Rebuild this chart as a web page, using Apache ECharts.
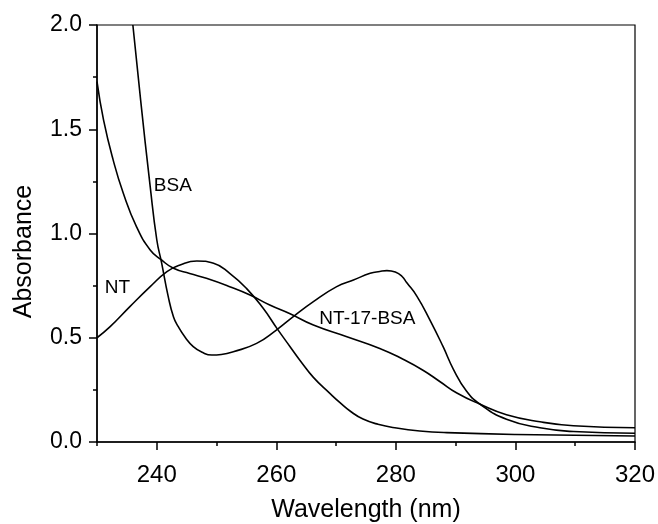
<!DOCTYPE html>
<html>
<head>
<meta charset="utf-8">
<script src="https://cdn.jsdelivr.net/npm/echarts@6/dist/echarts.min.js"></script>
<style>
html,body{margin:0;padding:0;background:#fff;}
#c{width:658px;height:524px;}
</style>
</head>
<body>
<div id="c"></div>
<script>
// BSA
const wlBSA  = [236.0, 237.3, 238.9, 240.0, 240.8, 241.9, 242.8, 243.6, 244.8, 246.1, 247.6, 249.2, 250.8, 252.8, 256.7, 260.0, 263.0, 266.2, 270.1, 272.9, 275.7, 277.3, 278.5, 279.9, 281.0, 281.8, 283.5, 285.7, 287.9, 289.6, 291.8, 294.1, 298.5, 304.1, 309.7, 320.0];
const absBSA = [2.00, 1.64, 1.225, 0.97, 0.86, 0.70, 0.60, 0.553, 0.500, 0.457, 0.430, 0.417, 0.420, 0.433, 0.473, 0.537, 0.605, 0.673, 0.745, 0.777, 0.809, 0.818, 0.822, 0.815, 0.795, 0.765, 0.700, 0.585, 0.457, 0.350, 0.245, 0.181, 0.109, 0.068, 0.050, 0.042];
// NT-17-BSA
const wlConj  = [230.0, 231.1, 232.7, 234.4, 236.6, 238.9, 240.8, 242.8, 245.5, 248.3, 252.2, 255.6, 258.9, 262.3, 266.2, 271.8, 277.3, 281.2, 284.6, 287.4, 290.2, 294.1, 298.5, 304.1, 309.7, 320.0];
const absConj = [1.728, 1.544, 1.353, 1.193, 1.033, 0.921, 0.873, 0.833, 0.808, 0.785, 0.745, 0.705, 0.657, 0.615, 0.561, 0.505, 0.449, 0.397, 0.343, 0.289, 0.235, 0.181, 0.131, 0.097, 0.078, 0.068];
// NT
const wlNT  = [230.0, 232.2, 235.5, 238.9, 241.7, 243.9, 246.7, 249.5, 252.2, 255.0, 257.8, 260.1, 262.3, 264.0, 266.2, 269.0, 270.6, 272.5, 274.5, 277.0, 280.1, 284.0, 288.5, 300.0, 320.0];
const absNT = [0.500, 0.553, 0.649, 0.745, 0.817, 0.849, 0.868, 0.857, 0.809, 0.737, 0.641, 0.545, 0.457, 0.390, 0.310, 0.232, 0.190, 0.145, 0.110, 0.085, 0.067, 0.053, 0.045, 0.036, 0.029];

const xMajorTicks = [240, 260, 280, 300, 320];
const xMinorTicks = [230, 250, 270, 290, 310];

const labelTexts = ['BSA', 'NT', 'NT-17-BSA'];
const labelAnchors = [[239.5, 1.227], [231.3, 0.741], [267.2, 0.593]];

function pairs(xs, ys){ return xs.map((x,i)=>[x, ys[i]]); }

const FONT = '"Liberation Sans", Arial, Helvetica, sans-serif';
const chart = echarts.init(document.getElementById('c'), null, {renderer:'canvas'});

const lineStyle = {color:'#000', width:1.6};
function mkSeries(name, xs, ys){
  return {
    name, type:'line', data: pairs(xs, ys), showSymbol:false, symbol:'none',
    smooth:0.5, lineStyle, clip:true, animation:false, z:3
  };
}

chart.setOption({
  animation:false,
  backgroundColor:'#fff',
  grid:{left:97, right:23, top:25, bottom:82, containLabel:false, outerBoundsMode:'none',
        show:true, borderColor:'#000', borderWidth:1.2, backgroundColor:'transparent'},
  xAxis:[{
    type:'value', min:230, max:320, position:'bottom',
    name:'Wavelength (nm)', nameLocation:'middle', nameGap:56,
    nameTextStyle:{fontFamily:FONT, fontSize:25, color:'#000'},
    axisLine:{show:true, onZero:false, lineStyle:{color:'#000', width:1.5}},
    axisTick:{show:true, inside:false, length:8, customValues:xMajorTicks, lineStyle:{color:'#000', width:1.5}},
    axisLabel:{show:true, customValues:xMajorTicks, margin:21, fontFamily:FONT, fontSize:24, color:'#000'},
    splitLine:{show:false}
  },{
    type:'value', min:230, max:320, position:'bottom',
    axisLine:{show:false},
    axisTick:{show:true, inside:false, length:4, customValues:xMinorTicks, lineStyle:{color:'#000', width:1.5}},
    axisLabel:{show:false},
    splitLine:{show:false}
  }],
  yAxis:{
    type:'value', min:0, max:2, interval:0.5,
    name:'Absorbance', nameLocation:'middle', nameGap:60, nameRotate:90,
    nameTextStyle:{fontFamily:FONT, fontSize:25, color:'#000', padding:[0,36,0,0]},
    axisLine:{show:true, onZero:false, lineStyle:{color:'#000', width:1.5}},
    axisTick:{show:true, inside:false, length:8, lineStyle:{color:'#000', width:1.5}},
    minorTick:{show:true, splitNumber:2, length:4, lineStyle:{color:'#000', width:1.5}},
    axisLabel:{margin:15, fontFamily:FONT, fontSize:23, color:'#000', formatter:v=>v.toFixed(1)},
    splitLine:{show:false}
  },
  series:[
    mkSeries('BSA', wlBSA, absBSA),
    mkSeries('NT-17-BSA', wlConj, absConj),
    mkSeries('NT', wlNT, absNT)
  ]
});

const graphics = labelTexts.map((t,i)=>{
  const p = chart.convertToPixel({xAxisIndex:0, yAxisIndex:0}, labelAnchors[i]);
  return {type:'text', x:p[0], y:p[1], z:10,
    style:{text:t, fill:'#000', font:'19px ' + FONT, align:'left', verticalAlign:'middle'}};
});
chart.setOption({graphic: graphics});
</script>
</body>
</html>
